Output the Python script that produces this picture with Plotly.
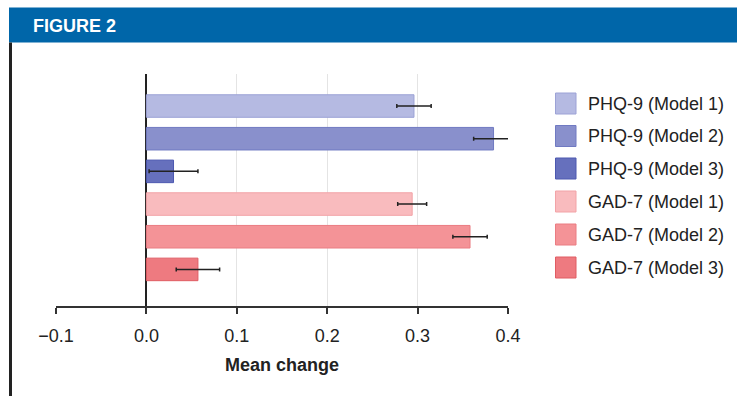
import plotly.graph_objects as go

# Mean change per outcome/model, with error half-widths
categories = ["PHQ-9 (Model 1)", "PHQ-9 (Model 2)", "PHQ-9 (Model 3)",
              "GAD-7 (Model 1)", "GAD-7 (Model 2)", "GAD-7 (Model 3)"]
mean_change = [0.296, 0.384, 0.030, 0.294, 0.358, 0.057]
error = [0.019, 0.022, 0.027, 0.016, 0.019, 0.024]
x_ticks = [-0.1, 0.0, 0.1, 0.2, 0.3, 0.4]

fills = ["#b5bae2", "#8990cc", "#6670bd", "#f9bbbe", "#f49397", "#ee7a80"]
edges = ["#9ca2d6", "#707ac2", "#4c58b0", "#f2a3a7", "#ea7c82", "#e05c63"]

W, H = 737, 396
L, R, T, B = 56, 508, 74, 306
FONT = "Liberation Sans, Arial, sans-serif"


def px(x):
    return (x - L) / (R - L)


def py(y):
    return (B - y) / (B - T)


fig = go.Figure()
for i, cat in enumerate(categories):
    fig.add_trace(go.Bar(
        x=[mean_change[i]], y=[cat], orientation="h",
        marker=dict(color=fills[i], line=dict(color=edges[i], width=1)),
        width=0.69,
        error_x=dict(type="data", array=[error[i]], color="#222222",
                     thickness=1.5, width=2),
        showlegend=False,
    ))

shapes = []
annotations = []

# Header band and left rule
shapes.append(dict(type="rect", xref="paper", yref="paper",
                   x0=px(9), x1=px(737), y0=py(42.5), y1=py(7.5),
                   fillcolor="#0066a9", line=dict(width=0), layer="below"))
shapes.append(dict(type="line", xref="paper", yref="paper",
                   x0=px(10.5), x1=px(10.5), y0=py(42.5), y1=py(396),
                   line=dict(color="#222222", width=3)))
annotations.append(dict(text="<b>FIGURE 2</b>", xref="paper", yref="paper",
                        x=px(31), y=py(25.5), xanchor="left", yanchor="middle",
                        showarrow=False,
                        font=dict(family=FONT, size=18, color="white")))

# Legend swatches and labels
legend_y = [103.5, 136, 168.5, 201.5, 234.5, 267.5]
for i, cat in enumerate(categories):
    cy = legend_y[i]
    shapes.append(dict(type="rect", xref="paper", yref="paper",
                       x0=px(555.5), x1=px(576), y0=py(cy + 10.5), y1=py(cy - 10.5),
                       fillcolor=fills[i], line=dict(color=edges[i], width=1)))
    annotations.append(dict(text=cat, xref="paper", yref="paper",
                            x=px(586), y=py(cy), xanchor="left", yanchor="middle",
                            showarrow=False,
                            font=dict(family=FONT, size=18, color="#222222")))

fig.update_layout(
    width=W, height=H,
    margin=dict(l=L, r=W - R, t=T, b=H - B, pad=0),
    paper_bgcolor="white", plot_bgcolor="white",
    font=dict(family=FONT, size=18, color="#222222"),
    shapes=shapes, annotations=annotations,
    bargap=0.3,
    showlegend=False,
)
fig.update_xaxes(
    range=[-0.1, 0.4], tickvals=x_ticks, tickformat=".1f",
    showgrid=True, gridcolor="#e4e4e4", gridwidth=1,
    zeroline=True, zerolinecolor="#222222", zerolinewidth=2,
    showline=True, linecolor="#333333", linewidth=1.5,
    ticks="outside", ticklen=6, tickcolor="#333333", tickwidth=1.5,
    ticklabelstandoff=7,
    tickfont=dict(family=FONT, size=18, color="#222222"),
    title=dict(text="<b>Mean change</b>", standoff=13,
               font=dict(family=FONT, size=18, color="#222222")),
    fixedrange=True,
)
fig.update_yaxes(
    type="category", categoryorder="array", categoryarray=categories,
    range=[6.12, -0.98], showticklabels=False, showgrid=False,
    zeroline=False, showline=False, ticks="",
    fixedrange=True,
)

fig.write_html("out.html", config=dict(displayModeBar=False))
